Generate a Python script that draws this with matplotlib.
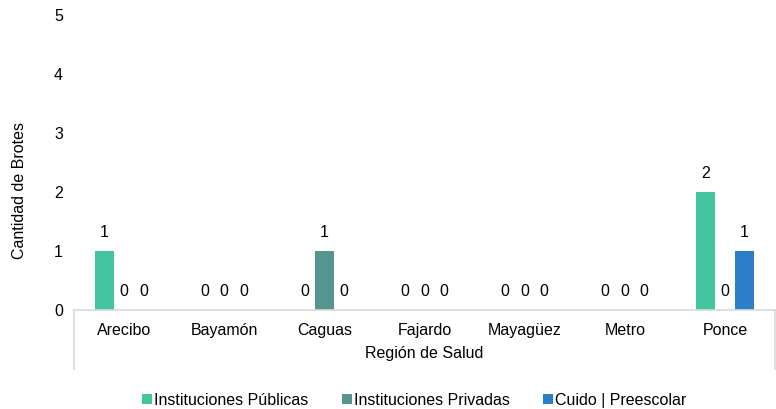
import numpy as np
import matplotlib
matplotlib.use("Agg")
import matplotlib.pyplot as plt
from matplotlib.lines import Line2D

plt.rcParams['font.family'] = ['Liberation Sans', 'DejaVu Sans']
plt.rcParams['font.size'] = 11.5

regiones = ['Arecibo', 'Bayamón', 'Caguas', 'Fajardo', 'Mayagüez', 'Metro', 'Ponce']
publicas = [1, 0, 0, 0, 0, 0, 2]
privadas = [0, 0, 1, 0, 0, 0, 0]
cuido = [0, 0, 0, 0, 0, 0, 1]
series_names = ['Instituciones Públicas', 'Instituciones Privadas', 'Cuido | Preescolar']
colors = ['#43C6A0', '#56948F', '#2A7FC7']

fig = plt.figure(figsize=(7.76, 4.09), dpi=100)
ax = fig.add_axes([0.0954, 0.242, 0.9033, 0.721])

x = np.arange(len(regiones))
w = 0.195
for i, (vals, name, c) in enumerate(zip([publicas, privadas, cuido], series_names, colors)):
    bars = ax.bar(x + (i - 1) * w, vals, width=w, color=c, label=name)
    ax.bar_label(bars, labels=[str(v) for v in vals], padding=8, color='#000000')

ax.set_xlim(-0.5, len(regiones) - 0.5)
ax.set_ylim(0, 5)
ax.set_yticks(range(0, 6))
ax.set_xticks(x)
ax.set_xticklabels(regiones)
ax.tick_params(axis='both', length=0, colors='#000000')
ax.tick_params(axis='y', pad=8)
ax.tick_params(axis='x', pad=9)
for s in ['top', 'right', 'left']:
    ax.spines[s].set_visible(False)
ax.spines['bottom'].set_color('#D9D9D9')
ax.spines['bottom'].set_linewidth(1.2)

# category box lines below the axis
for xx in [0.0, 1.0]:
    ax.add_line(Line2D([xx, xx], [0, -0.2], transform=ax.transAxes, color='#D9D9D9',
                       lw=1.2, clip_on=False))

ax.text(0.5, -0.146, 'Región de Salud', transform=ax.transAxes, ha='center', va='center')
fig.text(0.025, 0.535, 'Cantidad de Brotes', rotation=90, ha='center', va='center')

leg = fig.legend(loc='center', bbox_to_anchor=(0.534, 0.022), ncol=3, frameon=False,
                 handlelength=0.6, handleheight=0.6, handletextpad=0.15, columnspacing=2.1)

fig.savefig('out.png', dpi=100)
